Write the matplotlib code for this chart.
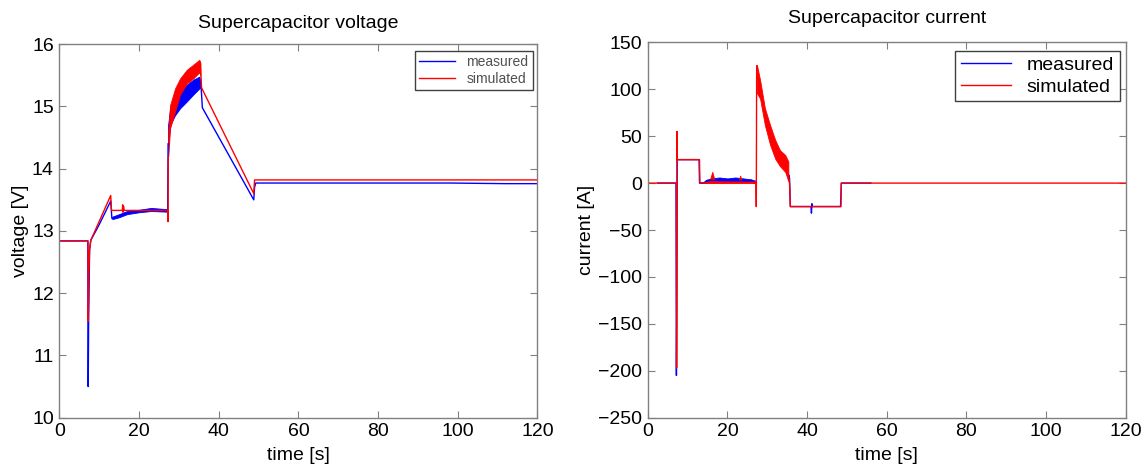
import matplotlib
matplotlib.use("Agg")
import matplotlib.pyplot as plt

plt.rcParams['font.family'] = ['Liberation Sans', 'DejaVu Sans']

BLUE = '#0000ff'
RED = '#ff0000'

# ---------------- Voltage data ----------------
# measured voltage (line parts)
vm_t1 = [0, 7.15, 7.25, 7.35, 7.6, 7.9, 10, 12.9, 13.2, 15, 17, 20, 23, 27.2, 27.3]
vm_v1 = [12.84, 12.84, 10.5, 11.5, 12.7, 12.85, 13.1, 13.48, 13.2, 13.24, 13.29, 13.32, 13.34, 13.33, 14.4]
vm_t2 = [35.4, 35.6, 35.9, 48.8, 49.0, 49.3, 98, 112, 120]
vm_v2 = [15.4, 15.3, 14.98, 13.5, 13.7, 13.77, 13.77, 13.76, 13.76]
# measured voltage noisy bands
vm_band_t = [27.3, 27.8, 29.05, 30.3, 32.0, 33.6, 35.15, 35.4]
vm_band_hi = [14.7, 14.97, 15.13, 15.24, 15.35, 15.43, 15.48, 15.4]
vm_band_lo = [14.4, 14.70, 14.86, 14.97, 15.08, 15.19, 15.29, 15.3]
vm_small_t = [13.3, 15, 17, 20, 23, 27.1]
vm_small_hi = [13.23, 13.27, 13.32, 13.34, 13.37, 13.35]
vm_small_lo = [13.19, 13.22, 13.27, 13.30, 13.32, 13.31]

# simulated voltage (line parts)
vs_t1 = [0, 7.2, 7.25, 7.4, 7.6, 7.9, 12.9, 13.1, 15.8, 15.9, 16.0, 16.1, 16.3, 27.2, 27.3, 27.35]
vs_v1 = [12.84, 12.84, 11.55, 12.3, 12.7, 12.85, 13.57, 13.33, 13.33, 13.42, 13.3, 13.4, 13.33, 13.33, 13.15, 14.2]
vs_t2 = [35.4, 35.7, 48.8, 49.0, 120]
vs_v2 = [15.7, 15.3, 13.6, 13.82, 13.82]
# simulated voltage noisy band
vs_band_t = [27.35, 27.8, 29.05, 30.3, 32.0, 33.6, 35.15, 35.4]
vs_band_hi = [14.6, 15.02, 15.29, 15.45, 15.59, 15.67, 15.75, 15.7]
vs_band_lo = [14.2, 14.65, 14.92, 15.19, 15.37, 15.45, 15.55, 15.5]

# ---------------- Current data ----------------
im_t1 = [2.5, 7.1, 7.2, 7.3, 7.4, 7.5, 12.9, 13.0, 14, 15, 27.0]
im_a1 = [0, 0, -205, -120, 25, 25, 25, 0, 0, 3, 2]
im_t2 = [35.5, 35.6, 35.8, 41, 41.1, 41.2, 41.3, 48.4, 48.6, 56]
im_a2 = [8, 5, -25, -25, -32, -22, -25, -25, 0, 0]
im_small_t = [14.5, 16, 18, 20, 22, 24, 26, 27.0]
im_small_hi = [3, 5, 6, 5, 6, 5, 4, 2]
im_small_lo = [0, 2, 2, 2, 2, 2, 1, 0]

is_t1 = [0, 7.2, 7.25, 7.3, 7.35, 7.4, 7.5, 13.0, 13.1, 27.2, 27.25, 27.35, 27.4]
is_a1 = [0, 0, -197, -100, 55, 25, 25, 25, 0, 1, -25, 125, 110]
is_t2 = [35.3, 35.6, 35.8, 48.5, 48.6, 120]
is_a2 = [10, 0, -25, -25, 0, 0]
# simulated current noisy bands
is_band_t = [27.4, 28.2, 29.4, 30.7, 32.0, 33.2, 34.5, 35.3]
is_band_hi = [126, 110, 80, 62, 46, 35, 30, 23]
is_band_lo = [96, 90, 62, 41, 26, 18, 12, 2]
is_small_t = [13.2, 15.5, 16.2, 16.8, 20, 22.8, 23.2, 23.6, 27.0]
is_small_hi = [1, 2, 12, 3, 3, 2, 8, 2, 1]
is_small_lo = [0, 0, 0, 0, 0, 0, 0, 0, 0]

fig = plt.figure(figsize=(11.45, 4.68), dpi=100)
ax1 = fig.add_axes([0.0518, 0.1075, 0.4176, 0.798])
ax2 = fig.add_axes([0.5657, 0.1075, 0.4175, 0.802])

lw = 1.0
# voltage
ax1.plot(vm_t1, vm_v1, color=BLUE, lw=lw, label='measured')
ax1.plot(vm_t2, vm_v2, color=BLUE, lw=lw)
ax1.fill_between(vm_band_t, vm_band_lo, vm_band_hi, color=BLUE, lw=0.6)
ax1.fill_between(vm_small_t, vm_small_lo, vm_small_hi, color=BLUE, lw=0.6)
ax1.plot(vs_t1, vs_v1, color=RED, lw=lw, label='simulated')
ax1.plot(vs_t2, vs_v2, color=RED, lw=lw)
ax1.fill_between(vs_band_t, vs_band_lo, vs_band_hi, color=RED, lw=0.6)

# current
ax2.plot(im_t1, im_a1, color=BLUE, lw=lw, label='measured')
ax2.plot(im_t2, im_a2, color=BLUE, lw=lw)
ax2.fill_between(im_small_t, im_small_lo, im_small_hi, color=BLUE, lw=0.6)
ax2.plot(is_t1, is_a1, color=RED, lw=lw, label='simulated')
ax2.plot(is_t2, is_a2, color=RED, lw=lw)
ax2.fill_between(is_band_t, is_band_lo, is_band_hi, color=RED, lw=0.6)
ax2.fill_between(is_small_t, is_small_lo, is_small_hi, color=RED, lw=0.6)

ax1.set_xlim(0, 120)
ax1.set_ylim(10, 16)
ax1.set_xticks(range(0, 121, 20))
ax1.set_yticks(range(10, 17, 1))
ax2.set_xlim(0, 120)
ax2.set_ylim(-250, 150)
ax2.set_xticks(range(0, 121, 20))
ax2.set_yticks(range(-250, 151, 50))

for ax in (ax1, ax2):
    ax.tick_params(direction='in', top=True, right=True, length=5, width=0.8,
                   color='#808080', labelsize=14, pad=4)
    for s in ax.spines.values():
        s.set_color('#808080')
        s.set_linewidth(1.0)
    ax.set_xlabel('time [s]', fontsize=14, labelpad=5)

ax1.set_ylabel('voltage [V]', fontsize=14, labelpad=2)
ax2.set_ylabel('current [A]', fontsize=14, labelpad=2)
ax1.set_title('Supercapacitor voltage', fontsize=14, pad=12)
ax2.set_title('Supercapacitor current', fontsize=14, pad=14)

leg1 = ax1.legend(loc='upper right', bbox_to_anchor=(0.99, 0.982), fontsize=10,
                  fancybox=False, edgecolor='#404040', framealpha=1,
                  handlelength=2.6, borderpad=0.3, labelspacing=0.2, borderaxespad=0)
for t in leg1.get_texts():
    t.set_color('#505050')
leg2 = ax2.legend(loc='upper right', bbox_to_anchor=(0.988, 0.978), fontsize=14,
                  fancybox=False, edgecolor='#404040', framealpha=1,
                  handlelength=2.6, borderpad=0.3, labelspacing=0.2, borderaxespad=0)
for leg in (leg1, leg2):
    leg.get_frame().set_linewidth(1.0)

fig.savefig('out.png', dpi=100)
